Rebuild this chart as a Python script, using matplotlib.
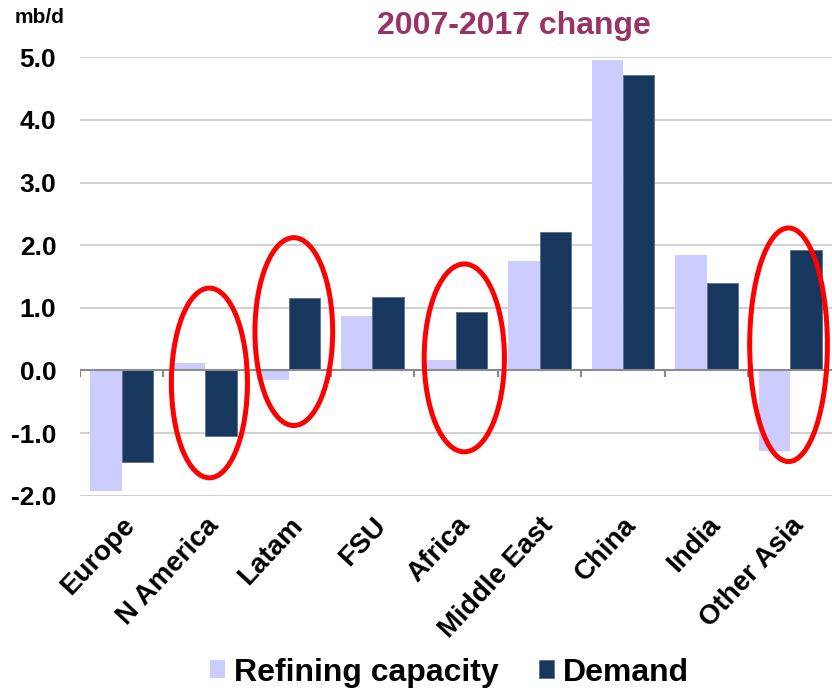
import numpy as np
import matplotlib.pyplot as plt
from matplotlib.patches import Ellipse

plt.rcParams['font.family'] = ['Liberation Sans', 'DejaVu Sans']
plt.rcParams['font.weight'] = 'bold'

regions = ['Europe', 'N America', 'Latam', 'FSU', 'Africa',
           'Middle East', 'China', 'India', 'Other Asia']
refining = [-1.93, 0.12, -0.16, 0.87, 0.17, 1.75, 4.96, 1.85, -1.28]
demand = [-1.47, -1.04, 1.15, 1.18, 0.94, 2.21, 4.72, 1.39, 1.93]

# circled regions: (x centre, y centre, width, height) in data units
highlights = [(1.05, -0.20, 0.91, 3.03),
              (2.06, 0.62, 0.93, 3.00),
              (4.10, 0.20, 0.96, 3.00),
              (7.98, 0.41, 0.93, 3.73)]

ref_color = '#CCCCFF'
dem_color = '#17375E'

fig = plt.figure(figsize=(8.32, 6.92), dpi=100)
ax = fig.add_axes([0.096, 0.2837, 0.904, 0.6335])

x = np.arange(len(regions))
w = 0.376
ax.bar(x - w / 2, refining, w, color=ref_color, label='Refining capacity', zorder=2)
ax.bar(x + w / 2, demand, w, color=dem_color, edgecolor='#5B6F8C', linewidth=0.6,
       label='Demand', zorder=2)

ax.set_xlim(-0.5, len(regions) - 0.5)
ax.set_ylim(-2, 5)
ax.set_yticks(np.arange(-2, 6, 1))
ax.set_yticklabels([f'{v:.1f}' for v in np.arange(-2, 6, 1)], fontsize=19)
ax.yaxis.grid(True, color='#C8C8C8', linewidth=1.2, zorder=0)
ax.set_axisbelow(True)
for s in ax.spines.values():
    s.set_visible(False)
ax.tick_params(axis='y', length=0, pad=17)

# zero line with category separators
ax.axhline(0, color='#8C8C8C', linewidth=1.5, zorder=3)
ax.vlines(np.arange(-0.5, len(regions) - 0.5, 1), -0.11, 0, color='#8C8C8C',
          linewidth=1.5, zorder=3)

ax.set_xticks(x)
ax.set_xticklabels(regions, rotation=47, ha='right', va='top',
                   rotation_mode='anchor', fontsize=20)
ax.tick_params(axis='x', length=0, pad=12)

for cx, cy, ew, eh in highlights:
    ax.add_patch(Ellipse((cx, cy), ew, eh, fill=False, edgecolor='#FF0000',
                         linewidth=3.6, zorder=4, clip_on=False))

fig.text(0.618, 0.962, '2007-2017 change', ha='center', va='center',
         fontsize=23, color='#993366', fontweight='bold')
fig.text(0.018, 0.974, 'mb/d', ha='left', va='center', fontsize=15)

fig.legend(loc='center', bbox_to_anchor=(0.54, 0.028), ncol=2, frameon=False,
           fontsize=23, handlelength=0.47, handleheight=0.47, handletextpad=0.28,
           columnspacing=1.25)

fig.savefig('out.png', dpi=100)
